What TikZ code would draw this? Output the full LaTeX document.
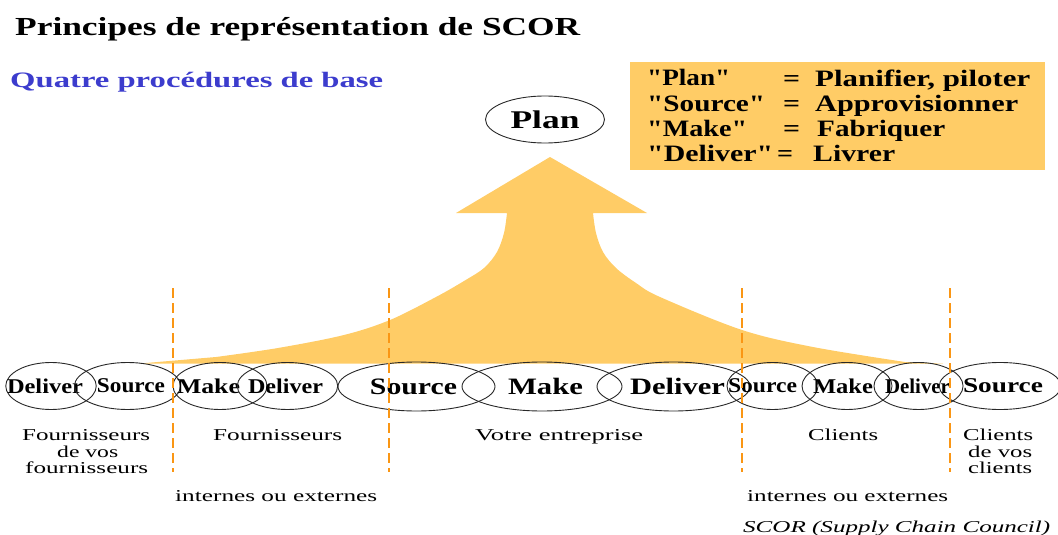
\documentclass[tikz,border=0pt]{standalone}
\usepackage{fontspec}
\setmainfont{Liberation Serif}
\newfontfamily\qfont{Liberation Serif}
\usepackage{graphicx}
\usetikzlibrary{shapes.geometric}
\definecolor{arrowfill}{RGB}{255,204,102}
\definecolor{boxfill}{RGB}{255,204,102}
\definecolor{sepor}{RGB}{250,150,20}
\definecolor{subblue}{RGB}{60,60,205}
\definecolor{ellgray}{RGB}{40,40,40}
\newcommand{\fw}[2]{\resizebox{#1pt}{\height}{#2}}
\begin{document}
\begin{tikzpicture}[x=1pt,y=-1pt,
  txt/.style={inner sep=0pt, anchor=base west},
  lbl/.style={txt, font=\fontsize{16.6}{19}\selectfont},
  boxtxt/.style={txt, font=\qfont\bfseries\fontsize{23.5}{26}\selectfont},
  proc/.style={ellipse, draw=ellgray, line width=0.9pt, minimum height=47pt, inner sep=0pt, font=\bfseries\fontsize{21}{24}\selectfont},
  bigproc/.style={proc, minimum height=49pt, font=\bfseries\fontsize{23.5}{26}\selectfont},
  sepline/.style={draw=sepor, line width=1.6pt, dash pattern=on 10pt off 5pt}]
\useasboundingbox (0,0) rectangle (1058,535);
% title
\node[txt, font=\bfseries\fontsize{26}{30}\selectfont] (title) at (15,35) {\fw{565}{Principes de représentation de SCOR}};
\node[txt, text=subblue, font=\bfseries\fontsize{22}{26}\selectfont] (sub) at (10,88) {\fw{373}{Quatre procédures de base}};
% legend box
\fill[boxfill] (630,62) rectangle (1045,170);
\node[boxtxt] (k1) at (647,86) {\fw{83}{"Plan"}};
\node[boxtxt] (e1) at (783,86) {\fw{17}{=}};
\node[boxtxt] (v1) at (815,86) {\fw{215}{Planifier, piloter}};
\node[boxtxt] (k2) at (647,111) {\fw{118}{"Source"}};
\node[boxtxt] (e2) at (783,111) {\fw{17}{=}};
\node[boxtxt] (v2) at (815,111) {\fw{203}{Approvisionner}};
\node[boxtxt] (k3) at (647,136) {\fw{100}{"Make"}};
\node[boxtxt] (e3) at (783,136) {\fw{17}{=}};
\node[boxtxt] (v3) at (817,136) {\fw{128}{Fabriquer}};
\node[boxtxt] (k4) at (647,161) {\fw{126}{"Deliver"}};
\node[boxtxt] (e4) at (777,161) {\fw{16}{=}};
\node[boxtxt] (v4) at (813,161) {\fw{82}{Livrer}};
% plan
\node[ellipse, draw=ellgray, line width=0.9pt, minimum width=119pt, minimum height=47pt, inner sep=0pt, font=\bfseries\fontsize{25.5}{28}\selectfont] (plan) at (545,119.5) {\fw{69}{Plan}};
% big arrow
\fill[arrowfill] (140,363.5) -- plot[smooth, tension=0.55] coordinates {(216,357) (278,348) (344,335) (390,320) (436,297) (464,281) (484,268) (497,252) (504,233) (507,213)}
  -- (456,213) -- (550,157) -- (647,213)
  -- plot[smooth, tension=0.55] coordinates {(593,213) (596,233) (603,252) (616,268) (636,283) (660,297) (742,330) (813,347) (905,362)}
  -- (943,363.5) -- cycle;
% process ellipses
\node[proc, minimum width=88pt] (d1) at (51,386) {\hspace*{-12pt}\fw{76}{Deliver}};
\node[proc, minimum width=89pt] (s1) at (127.5,386) {\hspace*{7pt}\fw{68}{Source}};
\node[proc, minimum width=94pt] (m2) at (220,386) {\hspace*{-23pt}\fw{63}{Make}};
\node[proc, minimum width=91pt] (d2) at (287.5,386) {\hspace*{-4pt}\fw{75}{Deliver}};
\node[bigproc, minimum width=157pt] (s3) at (416.5,386.5) {\hspace*{-6pt}\fw{87}{Source}};
\node[bigproc, minimum width=160pt] (m3) at (542,386.5) {\hspace*{7pt}\fw{75}{Make}};
\node[bigproc, minimum width=153pt] (d3) at (673.5,386.5) {\hspace*{8pt}\fw{95}{Deliver}};
\node[proc, minimum width=91pt] (s4) at (772.5,386) {\hspace*{-20pt}\fw{69}{Source}};
\node[proc, minimum width=90pt] (m4) at (847,386) {\hspace*{-8pt}\fw{60}{Make}};
\node[proc, minimum width=83pt] (d4) at (918.5,386) {\hspace*{-2pt}\fw{65}{Deliver}};
\node[proc, minimum width=96pt] (s5) at (1000,386) {\hspace*{6pt}\fw{80}{Source}};
% labels
\node[lbl] (l1a) at (22,440) {\fw{128}{Fournisseurs}};
\node[lbl] (l1b) at (57,457) {\fw{61}{de vos}};
\node[lbl] (l1c) at (25,473) {\fw{123}{fournisseurs}};
\node[lbl] (l2) at (213,440) {\fw{129}{Fournisseurs}};
\node[lbl] (l3) at (475,440) {\fw{168}{Votre entreprise}};
\node[lbl] (l4) at (808,440) {\fw{70}{Clients}};
\node[lbl] (l5a) at (963,440) {\fw{70}{Clients}};
\node[lbl] (l5b) at (968,457) {\fw{64}{de vos}};
\node[lbl] (l5c) at (968,473) {\fw{64}{clients}};
\node[lbl] (ie1) at (175,501) {\fw{202}{internes ou externes}};
\node[lbl] (ie2) at (747,501) {\fw{201}{internes ou externes}};
\node[lbl, font=\itshape\fontsize{16.6}{19}\selectfont] (src) at (743,532) {\fw{307}{SCOR (Supply Chain Council)}};
% separators
\draw[sepline] (173,288) -- (173,472);
\draw[sepline] (389,288) -- (389,472);
\draw[sepline] (742,288) -- (742,472);
\draw[sepline] (950,288) -- (950,472);
\end{tikzpicture}
\end{document}
